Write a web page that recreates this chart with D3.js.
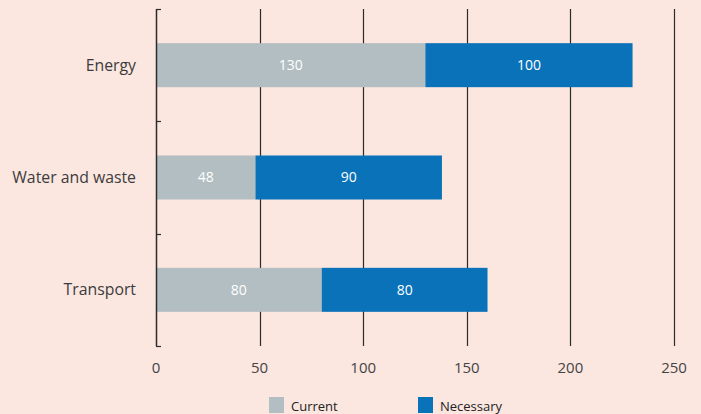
<!DOCTYPE html>
<html>
<head>
<meta charset="utf-8">
<script src="https://cdn.jsdelivr.net/npm/d3@7"></script>
<style>
  body { margin: 0; background: #fbe6e0; }
  svg { display: block; font-family: "Open Sans", "Noto Sans", sans-serif; }
</style>
</head>
<body>
<div id="chart"></div>
<script>
// data
var categories = ["Energy", "Water and waste", "Transport"];
var current = [130, 48, 80];
var necessary = [100, 90, 80];
var seriesNames = ["Current", "Necessary"];
var xTicks = [0, 50, 100, 150, 200, 250];

var width = 701, height = 414;
var margin = { top: 9, right: 27, bottom: 68, left: 156 };
var innerW = width - margin.left - margin.right,
    innerH = height - margin.top - margin.bottom;

var svg = d3.select("#chart")
    .append("svg")
    .attr("width", width)
    .attr("height", height);

svg.append("rect")
    .attr("width", width)
    .attr("height", height)
    .attr("fill", "#fbe6e0");

var g = svg.append("g")
    .attr("transform", "translate(" + margin.left + "," + margin.top + ")");

var x = d3.scaleLinear().domain([0, 250]).range([0, 518]);
var y = d3.scaleBand().domain(categories).range([0, innerH]).paddingInner(0).paddingOuter(0);

var color = d3.scaleOrdinal().domain(seriesNames).range(["#b2bec1", "#0a72b9"]);

// vertical grid lines
g.selectAll(".grid")
    .data(xTicks.slice(1))
    .enter().append("line")
    .attr("x1", function (d) { return Math.round(x(d)) + 0.5; })
    .attr("x2", function (d) { return Math.round(x(d)) + 0.5; })
    .attr("y1", 0)
    .attr("y2", innerH)
    .attr("stroke", "#2b2b2b")
    .attr("stroke-width", 1.2);

// stacked bars
var rows = categories.map(function (c, i) {
    return { cat: c, Current: current[i], Necessary: necessary[i] };
});
var stack = d3.stack().keys(seriesNames)(rows);

var barH = 44;
var layers = g.selectAll(".layer")
    .data(stack)
    .enter().append("g")
    .attr("fill", function (d) { return color(d.key); });

layers.selectAll("rect")
    .data(function (d) { return d; })
    .enter().append("rect")
    .attr("x", function (d) { return x(d[0]); })
    .attr("y", function (d) { return y(d.data.cat) + (y.bandwidth() - barH) / 2; })
    .attr("width", function (d) { return x(d[1]) - x(d[0]); })
    .attr("height", barH);

layers.selectAll("text")
    .data(function (d) { return d; })
    .enter().append("text")
    .attr("x", function (d) { return (x(d[0]) + x(d[1])) / 2; })
    .attr("y", function (d) { return y(d.data.cat) + y.bandwidth() / 2; })
    .attr("dy", "0.35em")
    .attr("text-anchor", "middle")
    .attr("fill", "white")
    .style("font-size", "14px")
    .text(function (d) { return d[1] - d[0]; });

// left axis with inward ticks at band edges
g.append("line")
    .attr("x1", 0.5).attr("x2", 0.5)
    .attr("y1", 0).attr("y2", innerH)
    .attr("stroke", "#2b2b2b")
    .attr("stroke-width", 1.5);

var edges = categories.map(function (c) { return y(c); }).concat([innerH]);
g.selectAll(".ytick")
    .data(edges)
    .enter().append("line")
    .attr("x1", 0).attr("x2", 5)
    .attr("y1", function (d) { return Math.round(d) + 0.5; })
    .attr("y2", function (d) { return Math.round(d) + 0.5; })
    .attr("stroke", "#2b2b2b")
    .attr("stroke-width", 1.2);

// category labels
g.selectAll(".cat")
    .data(categories)
    .enter().append("text")
    .attr("x", -20)
    .attr("y", function (d) { return y(d) + y.bandwidth() / 2; })
    .attr("dy", "0.35em")
    .attr("text-anchor", "end")
    .attr("fill", "#3c3c3c")
    .style("font-size", "15.8px")
    .text(function (d) { return d; });

// x tick labels
g.selectAll(".xlab")
    .data(xTicks)
    .enter().append("text")
    .attr("x", function (d) { return x(d); })
    .attr("y", innerH + 27)
    .attr("text-anchor", "middle")
    .attr("fill", "#444")
    .style("font-size", "15px")
    .text(function (d) { return d; });

// legend
var legendX = [269, 418];
var legend = svg.selectAll(".legend")
    .data(seriesNames)
    .enter().append("g")
    .attr("transform", function (d, i) { return "translate(" + legendX[i] + ",397)"; });

legend.append("rect")
    .attr("width", 15)
    .attr("height", 16)
    .attr("fill", function (d) { return color(d); });

legend.append("text")
    .attr("x", 22)
    .attr("y", 9)
    .attr("dy", "0.35em")
    .attr("fill", "#222")
    .style("font-size", "13px")
    .text(function (d) { return d; });
</script>
</body>
</html>
